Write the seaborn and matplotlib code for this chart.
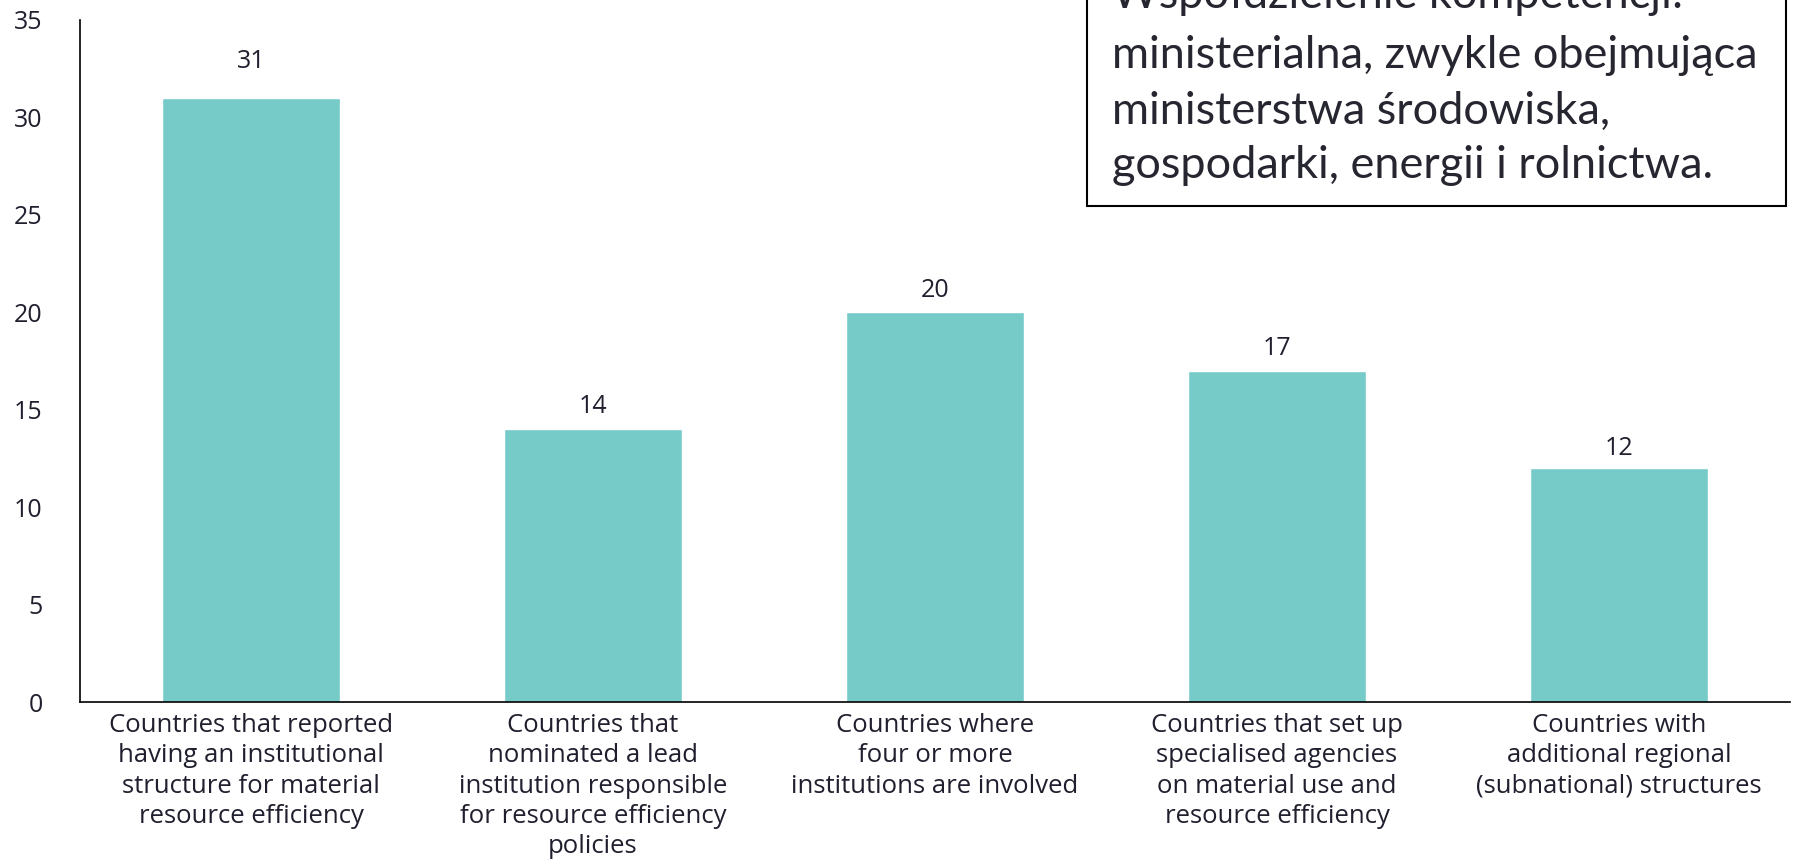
"""
Institutional structures for material resource efficiency - bar chart
"""

import pandas as pd
import matplotlib.pyplot as plt
import seaborn as sns

# =============================================================================
# DATA
# =============================================================================
categories = [
    "Countries that reported\nhaving an institutional\nstructure for material\nresource efficiency",
    "Countries that\nnominated a lead\ninstitution responsible\nfor resource efficiency\npolicies",
    "Countries where\nfour or more\ninstitutions are involved",
    "Countries that set up\nspecialised agencies\non material use and\nresource efficiency",
    "Countries with\nadditional regional\n(subnational) structures",
]
counts = [31, 14, 20, 17, 12]
y_ticks = [0, 5, 10, 15, 20, 25, 30, 35]

note_lines = [
    "Współdzielenie kompetencji:",
    "ministerialna, zwykle obejmująca",
    "ministerstwa środowiska,",
    "gospodarki, energii i rolnictwa.",
]

BAR_COLOR = "#76CBC9"
TEXT_COLOR = "#1f1f2e"
# gap between bar top and its value label, in points (the source is uneven)
LABEL_PAD = [17, 7, 7, 7, 5]

# =============================================================================
# PLOT
# =============================================================================
sns.set_style("white")
plt.rcParams["font.family"] = ["Open Sans", "DejaVu Sans"]

df = pd.DataFrame({"category": categories, "count": counts})

fig = plt.figure(figsize=(17.93, 8.61), dpi=100)
ax = fig.add_axes([80 / 1793, 1 - 702 / 861, (1790 - 80) / 1793, (702 - 20) / 861])

sns.barplot(data=df, x="category", y="count", color=BAR_COLOR, width=0.52,
            saturation=1, ax=ax)

for i, v in enumerate(counts):
    ax.annotate(str(v), (i, v), xytext=(0, LABEL_PAD[i]), textcoords="offset points",
                ha="center", va="bottom", fontsize=18, color=TEXT_COLOR)

ax.set_xlim(-0.5, len(categories) - 0.5)
ax.set_ylim(0, 35)
ax.set_yticks(y_ticks)
ax.set_yticklabels([str(t) for t in y_ticks], fontsize=18, color=TEXT_COLOR)
ax.set_xlabel("")
ax.set_ylabel("")

# category labels between boundary ticks
ax.set_xticks(range(len(categories)))
ax.set_xticklabels(categories, fontsize=18.5, color=TEXT_COLOR, linespacing=1.28)
ax.tick_params(axis="x", length=0, pad=8)
ax.set_xticks([i - 0.5 for i in range(len(categories) + 1)], minor=True)
ax.tick_params(axis="x", which="minor", length=10, width=1.2, color="black", direction="out")
ax.tick_params(axis="y", length=10, width=1.2, color="black", direction="out", pad=17)

for side in ["top", "right"]:
    ax.spines[side].set_visible(False)
for side in ["left", "bottom"]:
    ax.spines[side].set_color("black")
    ax.spines[side].set_linewidth(1.2)

# overlaid note box in the top-right corner (its first line is cut by the top edge)
fig.patches.append(plt.Rectangle((1087 / 1793, 1 - 206 / 861), (1786 - 1087) / 1793, 206 / 861 + 0.02,
                                 transform=fig.transFigure, facecolor="white",
                                 edgecolor="black", linewidth=1.5, zorder=5))
for k, line in enumerate(note_lines):
    y_px = 1 + 55 * k if k else -5
    fig.text(1112 / 1793, 1 - y_px / 861, line, fontsize=32.5, color="#262630",
             ha="left", va="center", family=["Lato", "DejaVu Sans"], zorder=6)

plt.savefig("out.png", dpi=100)
